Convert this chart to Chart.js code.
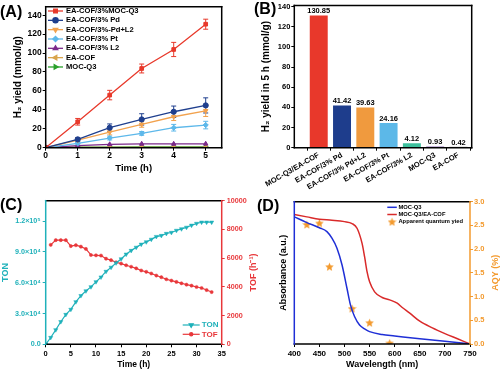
<!DOCTYPE html>
<html>
<head>
<meta charset="utf-8">
<script src="https://cdn.jsdelivr.net/npm/chart.js@4.4.0/dist/chart.umd.min.js"></script>
<style>
html, body { margin: 0; padding: 0; background: #fff; }
#wrap { position: relative; width: 500px; height: 370px; overflow: hidden; }
canvas { position: absolute; }
.tag { position: absolute; font: bold 16px 'Liberation Sans', Arial, sans-serif; line-height: 16px; color: #000; }
</style>
</head>
<body>
<div id="wrap">
  <canvas id="cA" width="250" height="185" style="left:0;top:0"></canvas>
  <canvas id="cB" width="250" height="195" style="left:250px;top:0"></canvas>
  <canvas id="cC" width="265" height="185" style="left:0;top:185px"></canvas>
  <canvas id="cD" width="250" height="185" style="left:250px;top:185px"></canvas>
  <div class="tag" style="left:0;top:4px">(A)</div>
  <div class="tag" style="left:254px;top:1px">(B)</div>
  <div class="tag" style="left:0;top:197px">(C)</div>
  <div class="tag" style="left:257px;top:198px">(D)</div>
</div>
<script>
// (A) H2 yield vs time
const hoursA = [0, 1, 2, 3, 4, 5];
const yieldMOC = [0, 27.4, 55.6, 83.7, 103.8, 130.5];
const errMOC = [0, 3.5, 5, 4.7, 7.5, 5.3];
const yieldPd = [0, 8.8, 21.1, 29.9, 38, 44.7];
const errPd = [0, 2, 4, 6, 6, 8];
const yieldPdL2 = [0, 8.1, 16.5, 24.6, 32.7, 39];
const errPdL2 = [0, 2, 3, 3, 4, 6];
const yieldPt = [0, 4.6, 10.2, 15.1, 21.1, 23.9];
const errPt = [0, 1, 2, 2, 3.5, 4];
const yieldL2 = [0, 2.1, 3.5, 4, 4, 4.1];
const yieldCOF = [0, 0.2, 0.3, 0.4, 0.4, 0.42];
const yieldQ3 = [0, 0.5, 0.7, 0.8, 0.9, 0.93];
const ticksAx = [0, 1, 2, 3, 4, 5];
const ticksAy = [0, 20, 40, 60, 80, 100, 120, 140];

// (B) H2 yield in 5 h
const barNames = ['MOC-Q3/EA-COF', 'EA-COF/3% Pd', 'EA-COF/3% Pd+L2', 'EA-COF/3% Pt', 'EA-COF/3% L2', 'MOC-Q3', 'EA-COF'];
const barValues = [130.85, 41.42, 39.63, 24.16, 4.12, 0.93, 0.42];
const barColors = ['#e8382b', '#1e3d8c', '#f09a3e', '#5cb8e8', '#3cbf9c', '#8c6bb8', '#a0a0a0'];
const ticksBy = [0, 20, 40, 60, 80, 100, 120, 140];

// (C) TON / TOF vs time
const hoursC = [0, 1, 2, 3, 4, 5, 6, 7, 8, 9, 10, 11, 12, 13, 14, 15, 16, 17, 18, 19, 20, 21, 22, 23, 24, 25, 26, 27, 28, 29, 30, 31, 32, 33];
const tonValues = [0, 6600, 14100, 22000, 29000, 34000, 41400, 47400, 52000, 56000, 60900, 65500, 71000, 75000, 79300, 83200, 87800, 91400, 94500, 97500, 99800, 102300, 105000, 106000, 108000, 109000, 111000, 112500, 114000, 116000, 117800, 119000, 119000, 119000];
const tofValues = [null, 6925, 7254, 7254, 7254, 6840, 6900, 6800, 6643, 6220, 6197, 6180, 5960, 5860, 5715, 5620, 5505, 5400, 5290, 5141, 5047, 4930, 4789, 4671, 4530, 4437, 4343, 4249, 4155, 4085, 3991, 3920, 3779, 3638];
const ticksCx = [0, 5, 10, 15, 20, 25, 30, 35];
const ticksTON = [0, 30000, 60000, 90000, 120000];
const labelsTON = ['0.0', '3.0×10⁴', '6.0×10⁴', '9.0×10⁴', '1.2×10⁵'];
const ticksTOF = [0, 2000, 4000, 6000, 8000, 10000];

// (D) absorbance + AQY
const wlMOC = [400, 425, 450, 465, 475, 485, 495, 505, 512, 520, 530, 540, 550, 575, 600, 650, 700, 750];
const absMOC = [2.68, 2.56, 2.45, 2.37, 2.23, 2.02, 1.67, 1.17, 0.82, 0.58, 0.40, 0.32, 0.26, 0.20, 0.17, 0.11, 0.06, 0.0];
const wlCOF = [400, 425, 450, 475, 500, 515, 525, 535, 540, 545, 550, 560, 575, 590, 605, 615, 630, 650, 675, 700, 725, 750];
const absCOF = [2.73, 2.68, 2.63, 2.61, 2.58, 2.54, 2.44, 2.12, 1.84, 1.52, 1.31, 1.10, 0.98, 0.93, 0.86, 0.77, 0.65, 0.48, 0.34, 0.22, 0.11, 0.0];
const aqyWl = [425, 450, 470, 515, 550, 590];
const aqyValues = [2.52, 2.55, 1.63, 0.75, 0.45, 0.02];
const ticksDx = [400, 450, 500, 550, 600, 650, 700, 750];
const ticksAQY = [0, 0.5, 1, 1.5, 2, 2.5, 3];

const FONT = "'Liberation Sans', Arial, sans-serif";
Chart.defaults.font.family = FONT;
Chart.defaults.font.weight = 'bold';
Chart.defaults.color = '#000';

const pts = (xs, ys) => xs.map((x, i) => ({ x, y: ys[i] }));
const fixTicks = vals => s => { s.ticks = vals.map(v => ({ value: v })); };
const grid = c => ({ display: true, drawOnChartArea: false, drawTicks: true, tickLength: 3, tickWidth: 1, tickColor: c, color: c });

// box round the plot area, each side may have its own colour
const frame = {
    id: 'frame',
    afterDraw(chart, args, o) {
        const { ctx, chartArea: a } = chart;
        const side = (c, x1, y1, x2, y2) => {
            ctx.strokeStyle = c; ctx.beginPath(); ctx.moveTo(x1, y1); ctx.lineTo(x2, y2); ctx.stroke();
        };
        ctx.save();
        ctx.lineWidth = 1.5;
        ctx.lineCap = 'square';
        side(o.top || '#000', a.left, a.top, a.right, a.top);
        side(o.bottom || '#000', a.left, a.bottom, a.right, a.bottom);
        side(o.left || '#000', a.left, a.top, a.left, a.bottom);
        side(o.right || '#000', a.right, a.top, a.right, a.bottom);
        ctx.restore();
    }
};

const errorBars = {
    id: 'errorBars',
    beforeDatasetsDraw(chart) {
        const { ctx } = chart;
        chart.data.datasets.forEach((ds, i) => {
            if (!ds.errors) return;
            const meta = chart.getDatasetMeta(i);
            const ys = chart.scales[meta.yAxisID];
            ctx.save();
            ctx.strokeStyle = ds.borderColor;
            ctx.lineWidth = 1;
            meta.data.forEach((p, j) => {
                const e = ds.errors[j];
                if (!e) return;
                const v = ds.data[j].y;
                const y1 = ys.getPixelForValue(v + e), y2 = ys.getPixelForValue(v - e);
                ctx.beginPath();
                ctx.moveTo(p.x, y1); ctx.lineTo(p.x, y2);
                ctx.moveTo(p.x - 2.5, y1); ctx.lineTo(p.x + 2.5, y1);
                ctx.moveTo(p.x - 2.5, y2); ctx.lineTo(p.x + 2.5, y2);
                ctx.stroke();
            });
            ctx.restore();
        });
    }
};

// legend drawn inside the plot
const boxLegend = {
    id: 'boxLegend',
    afterDraw(chart, args, o) {
        const { ctx } = chart;
        ctx.save();
        ctx.font = o.font;
        ctx.textBaseline = 'middle';
        chart.data.datasets.forEach((ds, i) => {
            const y = o.y + i * o.rowH;
            const x1 = o.x + o.lineLen, xm = o.x + o.lineLen / 2;
            ctx.strokeStyle = ds.borderColor;
            ctx.fillStyle = ds.borderColor;
            if (ds.showLine !== false) {
                ctx.lineWidth = ds.borderWidth;
                ctx.beginPath(); ctx.moveTo(o.x, y); ctx.lineTo(x1, y); ctx.stroke();
            }
            if (ds.pointRadius > 0) {
                Chart.helpers.drawPoint(ctx, {
                    pointStyle: ds.pointStyle, rotation: ds.pointRotation || 0,
                    radius: ds.pointRadius, borderWidth: ds.pointBorderWidth || 0
                }, xm, y);
            }
            ctx.fillStyle = o.textColor || ds.borderColor;
            ctx.fillText(ds.label, x1 + o.gap, y);
        });
        ctx.restore();
    }
};

const barLabels = {
    id: 'barLabels',
    afterDatasetsDraw(chart, args, o) {
        const { ctx } = chart;
        ctx.save();
        ctx.font = o.font;
        ctx.fillStyle = '#000';
        ctx.textAlign = 'center';
        ctx.textBaseline = 'bottom';
        chart.getDatasetMeta(0).data.forEach((bar, i) => ctx.fillText(barValues[i].toFixed(2), bar.x, bar.y - 1));
        ctx.restore();
    }
};

// right-hand axis titles read bottom to top
const sideTitle = {
    id: 'sideTitle',
    afterDraw(chart, args, o) {
        const { ctx, chartArea: a } = chart;
        ctx.save();
        ctx.translate(o.x, (a.top + a.bottom) / 2);
        ctx.rotate(-Math.PI / 2);
        ctx.font = o.font;
        ctx.fillStyle = o.color;
        ctx.textAlign = 'center';
        ctx.textBaseline = 'middle';
        ctx.fillText(o.text, 0, 0);
        ctx.restore();
    }
};

function starImage(size, color) {
    const c = document.createElement('canvas');
    c.width = c.height = size;
    const g = c.getContext('2d');
    const r = size / 2, ri = r * 0.45;
    g.beginPath();
    for (let k = 0; k < 10; k++) {
        const rr = k % 2 ? ri : r;
        const ang = -Math.PI / 2 + k * Math.PI / 5;
        g.lineTo(r + rr * Math.cos(ang), r + rr * Math.sin(ang) + 0.5);
    }
    g.closePath();
    g.fillStyle = color;
    g.fill();
    return c;
}

function series(label, ys, color, style, rot, errs) {
    return {
        label, data: pts(hoursA, ys), errors: errs,
        borderColor: color, backgroundColor: color, pointBackgroundColor: color,
        borderWidth: 1.3, pointStyle: style, pointRotation: rot, pointRadius: 2.6,
        pointBorderWidth: 1, pointHoverRadius: 2.6
    };
}

const base = { responsive: false, animation: false, events: [] };

// ---------- (A)
new Chart(document.getElementById('cA'), {
    type: 'line',
    data: {
        datasets: [
            series('EA-COF/3%MOC-Q3', yieldMOC, '#e8392b', 'rect', 0, errMOC),
            series('EA-COF/3% Pd', yieldPd, '#1f3f8e', 'circle', 0, errPd),
            series('EA-COF/3%-Pd+L2', yieldPdL2, '#f2a24e', 'triangle', 180, errPdL2),
            series('EA-COF/3% Pt', yieldPt, '#5db8ea', 'rectRot', 0, errPt),
            series('EA-COF/3% L2', yieldL2, '#7b2a8a', 'triangle', 0),
            series('EA-COF', yieldCOF, '#d9a44c', 'triangle', 270),
            series('MOC-Q3', yieldQ3, '#2aa02a', 'triangle', 90)
        ]
    },
    options: {
        ...base,
        layout: { padding: { top: 6.7, right: 28.3, left: 0, bottom: 0 } },
        plugins: {
            legend: { display: false }, tooltip: { enabled: false },
            boxLegend: { x: 48, y: 11, rowH: 9.33, lineLen: 15, gap: 3, font: `bold 7.6px ${FONT}`, textColor: '#000' }
        },
        scales: {
            x: {
                type: 'linear', min: 0, max: 5.5,
                afterFit: s => { s.height = 37.3; }, afterBuildTicks: fixTicks(ticksAx),
                grid: grid('#000'), border: { display: false },
                ticks: { font: { size: 8.5 }, padding: 0, autoSkip: false },
                title: { display: true, text: 'Time (h)', font: { size: 9.5 }, padding: { top: 0, bottom: 10.6 } }
            },
            y: {
                min: 0, max: 149,
                afterFit: s => { s.width = 45.7; }, afterBuildTicks: fixTicks(ticksAy),
                grid: grid('#000'), border: { display: false },
                ticks: { font: { size: 8.5 }, padding: 1, autoSkip: false },
                title: { display: true, text: 'H₂ yield (mmol/g)', font: { size: 10 }, padding: { top: 12, bottom: 0 } }
            }
        }
    },
    plugins: [frame, errorBars, boxLegend]
});

// ---------- (B)
new Chart(document.getElementById('cB'), {
    type: 'bar',
    data: {
        datasets: [{
            data: pts(barNames.map((n, i) => i + 1), barValues),
            backgroundColor: barColors, borderWidth: 0, barThickness: 17.3
        }]
    },
    options: {
        ...base,
        layout: { padding: { top: 4.7, right: 28.3, left: 0, bottom: 0 } },
        plugins: { legend: { display: false }, tooltip: { enabled: false }, barLabels: { font: `bold 7.5px ${FONT}` } },
        scales: {
            x: {
                type: 'linear', min: -0.05, max: 7.57, offset: false,
                afterFit: s => { s.height = 47.3; }, afterBuildTicks: fixTicks(barNames.map((n, i) => i + 1)),
                grid: grid('#000'), border: { display: false },
                ticks: { font: { size: 7.5 }, padding: 0, autoSkip: false, minRotation: 30, maxRotation: 30, callback: (v, i) => barNames[i] }
            },
            y: {
                min: 0, max: 141,
                afterFit: s => { s.width = 44.3; }, afterBuildTicks: fixTicks(ticksBy),
                grid: grid('#000'), border: { display: false },
                ticks: { font: { size: 7.5 }, padding: 1, autoSkip: false },
                title: { display: true, text: 'H₂ yield in 5 h (mmol/g)', font: { size: 10 }, padding: { top: 10.4, bottom: 0 } }
            }
        }
    },
    plugins: [frame, barLabels]
});

// ---------- (C)
const cyan = '#1fb1ba', red = '#e8373a';
new Chart(document.getElementById('cC'), {
    type: 'line',
    data: {
        datasets: [
            {
                label: 'TON', data: pts(hoursC, tonValues), yAxisID: 'y',
                borderColor: cyan, backgroundColor: cyan, pointBackgroundColor: cyan, borderWidth: 1.2,
                pointStyle: 'triangle', pointRotation: 180, pointRadius: 2.4, pointBorderWidth: 0.5
            },
            {
                label: 'TOF', data: pts(hoursC, tofValues), yAxisID: 'y2',
                borderColor: red, backgroundColor: red, pointBackgroundColor: red, borderWidth: 1.2,
                pointStyle: 'circle', pointRadius: 1.6, pointBorderWidth: 0.5
            }
        ]
    },
    options: {
        ...base,
        layout: { padding: { top: 15.7, right: 0, left: 0, bottom: 0 } },
        plugins: {
            legend: { display: false }, tooltip: { enabled: false },
            frame: { left: cyan, right: red },
            boxLegend: { x: 182.7, y: 140, rowH: 9.3, lineLen: 17, gap: 2, font: `bold 8px ${FONT}` },
            sideTitle: { x: 254, text: 'TOF (h⁻¹)', color: red, font: `bold 9px ${FONT}` }
        },
        scales: {
            x: {
                type: 'linear', min: 0, max: 35,
                afterFit: s => { s.height = 25.7; }, afterBuildTicks: fixTicks(ticksCx),
                grid: grid('#000'), border: { display: false },
                ticks: { font: { size: 7.5 }, padding: 2, autoSkip: false },
                title: { display: true, text: 'Time (h)', font: { size: 8.5 }, padding: { top: 0, bottom: 0.5 } }
            },
            y: {
                position: 'left', min: 0, max: 140000,
                afterFit: s => { s.width = 45.7; }, afterBuildTicks: fixTicks(ticksTON),
                grid: grid(cyan), border: { display: false },
                ticks: { color: cyan, font: { size: 7.2 }, padding: 2, autoSkip: false, callback: (v, i) => labelsTON[i] },
                title: { display: true, text: 'TON', color: cyan, font: { size: 9 }, padding: { top: 0, bottom: 0 } }
            },
            y2: {
                position: 'right', min: 0, max: 10000,
                afterFit: s => { s.width = 43.3; }, afterBuildTicks: fixTicks(ticksTOF),
                grid: grid(red), border: { display: false },
                ticks: { color: red, font: { size: 7.2 }, padding: 2, autoSkip: false, callback: v => String(v) }
            }
        }
    },
    plugins: [frame, boxLegend, sideTitle]
});

// ---------- (D)
const orange = '#f39a2e';
const star = starImage(9, orange);
new Chart(document.getElementById('cD'), {
    type: 'line',
    data: {
        datasets: [
            {
                label: 'MOC-Q3', data: pts(wlMOC, absMOC), yAxisID: 'y',
                borderColor: '#1f2fd6', borderWidth: 1.5, pointRadius: 0, cubicInterpolationMode: 'monotone'
            },
            {
                label: 'MOC-Q3/EA-COF', data: pts(wlCOF, absCOF), yAxisID: 'y',
                borderColor: '#d92a2a', borderWidth: 1.5, pointRadius: 0, cubicInterpolationMode: 'monotone'
            },
            {
                label: 'Apparent quantum yied', data: pts(aqyWl, aqyValues), yAxisID: 'y2',
                borderColor: orange, backgroundColor: orange, showLine: false,
                pointStyle: star, pointRadius: 4.5
            }
        ]
    },
    options: {
        ...base,
        layout: { padding: { top: 16.7, right: 0, left: 0, bottom: 0 } },
        plugins: {
            legend: { display: false }, tooltip: { enabled: false },
            frame: { left: '#1f2fd6', right: orange },
            boxLegend: { x: 137.3, y: 22.3, rowH: 7.2, lineLen: 9.5, gap: 1.6, font: `bold 5.8px ${FONT}`, textColor: '#000' },
            sideTitle: { x: 245.5, text: 'AQY (%)', color: orange, font: `bold 9px ${FONT}` }
        },
        scales: {
            x: {
                type: 'linear', min: 400, max: 750,
                afterFit: s => { s.height = 26; }, afterBuildTicks: fixTicks(ticksDx),
                grid: grid('#000'), border: { display: false },
                ticks: { font: { size: 8 }, padding: 1.5, autoSkip: false },
                title: { display: true, text: 'Wavelength (nm)', font: { size: 9 }, padding: { top: 0, bottom: 0 } }
            },
            y: {
                position: 'left', min: 0, max: 3,
                afterFit: s => { s.width = 44.3; },
                grid: { display: false }, border: { display: false },
                ticks: { display: false },
                title: { display: true, text: 'Absorbance (a.u.)', font: { size: 9 }, padding: { top: 27.9, bottom: 0 } }
            },
            y2: {
                position: 'right', min: 0, max: 3,
                afterFit: s => { s.width = 30; }, afterBuildTicks: fixTicks(ticksAQY),
                grid: grid(orange), border: { display: false },
                ticks: { color: orange, font: { size: 7.5 }, padding: 1, autoSkip: false, callback: v => v.toFixed(1) }
            }
        }
    },
    plugins: [frame, boxLegend, sideTitle]
});
</script>
</body>
</html>
